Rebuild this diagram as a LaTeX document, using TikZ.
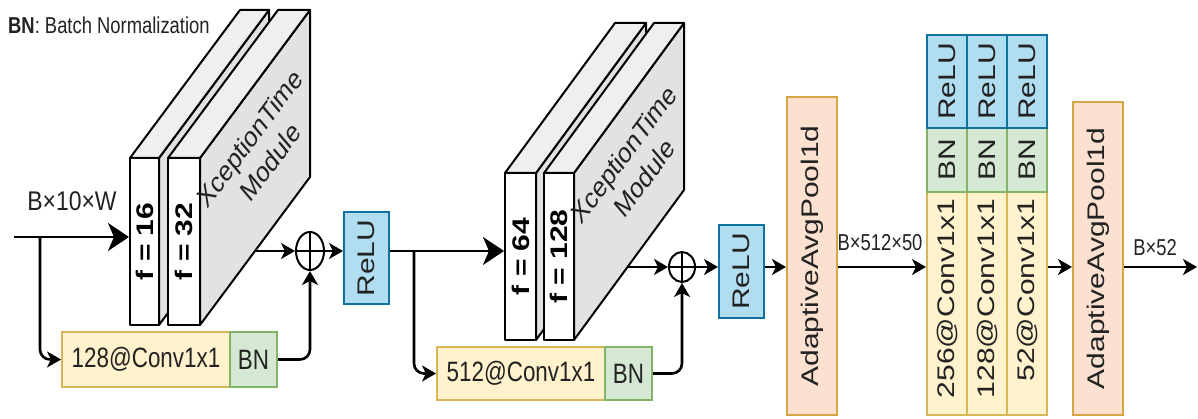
\documentclass[tikz,border=0pt]{standalone}
\usepackage{fontspec}
\setmainfont{Liberation Sans}
\usepackage{graphicx}
\usetikzlibrary{arrows.meta,shapes.geometric,calc}

\definecolor{reluF}{HTML}{B1DDF0}
\definecolor{reluD}{HTML}{10739E}
\definecolor{bnF}{HTML}{D5E8D4}
\definecolor{bnD}{HTML}{82B366}
\definecolor{convF}{HTML}{FFF2CC}
\definecolor{convD}{HTML}{D6B656}
\definecolor{poolF}{HTML}{FCE1D1}
\definecolor{poolD}{HTML}{D6A642}
\definecolor{slabT}{HTML}{EFEFEF}
\definecolor{slabS}{HTML}{E2E2E2}
\definecolor{ink}{HTML}{222222}

% font sizes
\newcommand\fbig{\fontsize{30}{36}\selectfont}
\newcommand\fmid{\fontsize{28}{34}\selectfont}
\newcommand\fsmall{\fontsize{23}{28}\selectfont}
% condensed text: horizontal and vertical (reading bottom to top)
\newcommand\hlabel[1]{\scalebox{0.8}[1]{#1}}
\newcommand\vlabel[1]{\rotatebox{90}{\scalebox{1}[0.8]{#1}}}

% side and top faces of one slab: x0 x1 ytop ybot dx dy
\newcommand\drawslab[6]{%
  \filldraw[slabside] (#2,#3) -- ({#2+#5},{#3+#6}) -- ({#2+#5},{#4+#6}) -- (#2,#4) -- cycle;
  \filldraw[slabtop] (#1,#3) -- (#2,#3) -- ({#2+#5},{#3+#6}) -- ({#1+#5},{#3+#6}) -- cycle;
}

\tikzset{
  box/.style={draw, line width=2pt, inner sep=0pt, text=ink},
  relubox/.style={box, fill=reluF, draw=reluD},
  bnbox/.style={box, fill=bnF, draw=bnD},
  convbox/.style={box, fill=convF, draw=convD},
  poolbox/.style={box, fill=poolF, draw=poolD},
  slabfront/.style={draw, fill=white, line width=2pt, inner sep=0pt, line join=round},
  slabtop/.style={draw, fill=slabT, line width=2pt, line join=round},
  slabside/.style={draw, fill=slabS, line width=2pt, line join=round},
  sumnode/.style={ellipse, draw, line width=2pt, inner sep=0pt},
  wire/.style={line width=2.6pt, line join=round},
  arr/.style={wire, -{Stealth[length=14pt,width=16pt,inset=4pt]}},
  bigarr/.style={wire, -{Stealth[length=21pt,width=28pt,inset=6pt]}},
  lbl/.style={text=ink, inner sep=0pt},
}

\begin{document}
\begin{tikzpicture}[x=1pt,y=-1pt]
\useasboundingbox (0,0) rectangle (1198,419);

\node[lbl, anchor=west] (legend) at (8,25) {\fsmall\hlabel{\textbf{BN}: Batch Normalization}};

% ---- first XceptionTime module ----
\drawslab{130}{159}{158}{325}{110}{-148}
\node[slabfront, minimum width=29pt, minimum height=167pt] (m1a) at (144.5,241.5) {\fbig\vlabel{\textbf{f = 16}}};
\drawslab{168}{200}{158}{325}{110}{-148}
\node[slabfront, minimum width=32pt, minimum height=167pt] (m1b) at (184,241.5) {\fbig\vlabel{\textbf{f = 32}}};
\node[lbl] (x1) at (262,152) {\fontsize{29}{35}\selectfont\scalebox{0.8}[1]{\rotatebox{47}{\begin{tabular}{@{}c@{}}XceptionTime\\Module\end{tabular}}}};
\coordinate (o1) at (255,251);

\node[convbox, minimum width=168pt, minimum height=55pt] (conv1) at (146,359.5) {\fmid\hlabel{128@Conv1x1}};
\node[bnbox, minimum width=47pt, minimum height=55pt] (bn1) at (253.5,359.5) {\fmid\hlabel{BN}};

\node[sumnode, minimum width=28pt, minimum height=38pt] (s1) at (310,251) {};
\draw[line width=2pt] (s1.north) -- (s1.south) (s1.west) -- (s1.east);

\node[relubox, minimum width=45pt, minimum height=92pt] (r1) at (366.5,258) {\fbig\vlabel{ReLU}};

\coordinate (in1) at (14,237);
\coordinate (br1) at (40,237);
\node[lbl] (lin) at (72,201) {\fontsize{27}{32}\selectfont\scalebox{0.85}[1]{B×10×W}};
\draw[bigarr] (in1) -- (m1a.west |- in1);
\draw[arr, rounded corners=10pt] (br1) |- (conv1.west);
\draw[arr] (o1) -- (s1.west);
\draw[arr, rounded corners=10pt] (bn1.east) -| (s1.south);
\draw[arr] (s1.east) -- (r1.west |- s1);

% ---- second XceptionTime module ----
\drawslab{505}{536}{173}{340}{110}{-150}
\node[slabfront, minimum width=31pt, minimum height=167pt] (m2a) at (520.5,256.5) {\fbig\vlabel{\textbf{f = 64}}};
\drawslab{544}{574}{173}{340}{110}{-150}
\node[slabfront, minimum width=30pt, minimum height=167pt] (m2b) at (559,256.5) {\fbig\vlabel{\textbf{f = 128}}};
\node[lbl] (x2) at (636,168) {\fontsize{29}{35}\selectfont\scalebox{0.8}[1]{\rotatebox{47}{\begin{tabular}{@{}c@{}}XceptionTime\\Module\end{tabular}}}};
\coordinate (o2) at (628,267);

\node[convbox, minimum width=168pt, minimum height=53pt] (conv2) at (521,373.5) {\fmid\hlabel{512@Conv1x1}};
\node[bnbox, minimum width=47pt, minimum height=53pt] (bn2) at (628.5,373.5) {\fmid\hlabel{BN}};

\node[sumnode, minimum width=26pt, minimum height=30pt] (s2) at (682,267) {};
\draw[line width=2pt] (s2.north) -- (s2.south) (s2.west) -- (s2.east);

\node[relubox, minimum width=45pt, minimum height=93pt] (r2) at (741.5,271.5) {\fbig\vlabel{ReLU}};

\coordinate (br2) at (414,251);
\draw[bigarr] (r1.east |- s1) -- (m2a.west |- s1);
\draw[arr, rounded corners=10pt] (br2) |- (conv2.west);
\draw[arr] (o2) -- (s2.west);
\draw[arr, rounded corners=10pt] (bn2.east) -| (s2.south);
\draw[arr] (s2.east) -- (r2.west |- s2);

% ---- head ----
\coordinate (lv) at (0,267);
\node[poolbox, minimum width=50pt, minimum height=318pt] (aap1) at (812,256) {\fbig\vlabel{AdaptiveAvgPool1d}};

% stacked conv / BN / ReLU blocks
\foreach \i/\x in {1/947,2/987,3/1027}{
  \node[convbox, minimum width=40pt, minimum height=223pt] (sc\i) at (\x,303.5) {};
}
\foreach \i/\x in {1/947,2/987,3/1027}{
  \node[bnbox, minimum width=40pt, minimum height=64pt] (sb\i) at (\x,160) {\fbig\vlabel{BN}};
}
\foreach \i/\x in {1/947,2/987,3/1027}{
  \node[relubox, minimum width=40pt, minimum height=93pt] (sr\i) at (\x,81.5) {\fbig\vlabel{ReLU}};
}
\node[lbl, anchor=north] (t1) at (sc1.center |- 0,199) {\fbig\vlabel{256@Conv1x1}};
\node[lbl, anchor=north] (t2) at (sc2.center |- 0,199) {\fbig\vlabel{128@Conv1x1}};
\node[lbl, anchor=north] (t3) at (sc3.center |- 0,199) {\fbig\vlabel{52@Conv1x1}};

\node[poolbox, minimum width=50pt, minimum height=313pt] (aap2) at (1098,258.5) {\fbig\vlabel{AdaptiveAvgPool1d}};

\coordinate (out) at (1197,267);
\draw[arr] (r2.east |- s2) -- (aap1.west |- lv);
\draw[arr] (aap1.east |- lv) -- (sc1.west |- lv);
\node[lbl] (l512) at (880,243) {\fsmall\hlabel{B×512×50}};
\draw[arr] (sc3.east |- lv) -- (aap2.west |- lv);
\draw[arr] (aap2.east |- lv) -- (out);
\node[lbl] (l52) at (1155,248) {\fsmall\hlabel{B×52}};
\end{tikzpicture}
\end{document}
